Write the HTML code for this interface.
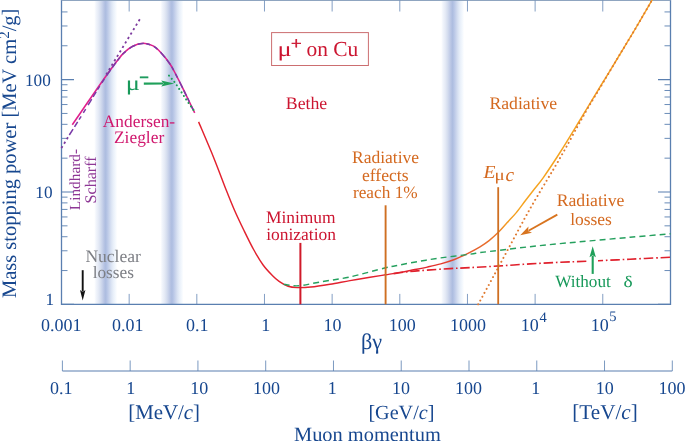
<!DOCTYPE html>
<html><head><meta charset="utf-8"><style>
html,body{margin:0;padding:0;background:#fff;}
svg{display:block;}
text{font-family:"Liberation Serif","DejaVu Serif",serif;text-rendering:geometricPrecision;}
</style></head><body>
<svg width="685" height="441" viewBox="0 0 685 441">
<rect width="685" height="441" fill="#fff"/>
<defs>
<linearGradient id="band" x1="0" x2="1" y1="0" y2="0">
 <stop offset="0.0000" stop-color="#ffffff"/>
 <stop offset="0.0870" stop-color="#f0f4fb"/>
 <stop offset="0.1739" stop-color="#e6ebf6"/>
 <stop offset="0.2609" stop-color="#d8e0f0"/>
 <stop offset="0.3478" stop-color="#c8d2ea"/>
 <stop offset="0.4348" stop-color="#b6c3e3"/>
 <stop offset="0.5000" stop-color="#adbde0"/>
 <stop offset="0.5652" stop-color="#b8c6e6"/>
 <stop offset="0.6522" stop-color="#c9d4ec"/>
 <stop offset="0.7391" stop-color="#dae3f3"/>
 <stop offset="0.8261" stop-color="#e8eff9"/>
 <stop offset="0.9130" stop-color="#f2f7fd"/>
 <stop offset="1.0000" stop-color="#ffffff"/>
</linearGradient>
<linearGradient id="tot" gradientUnits="userSpaceOnUse" x1="420" y1="0" x2="520" y2="0">
 <stop offset="0" stop-color="#e2212e"/>
 <stop offset="0.45" stop-color="#e5572f"/>
 <stop offset="0.78" stop-color="#ea7a2a"/>
 <stop offset="0.85" stop-color="#f29a25"/>
 <stop offset="1" stop-color="#f5a31f"/>
</linearGradient>
</defs>
<rect x="94.2" y="0" width="23" height="304.4" fill="url(#band)"/>
<rect x="160.4" y="0" width="23" height="304.4" fill="url(#band)"/>
<rect x="441.1" y="0" width="23" height="304.4" fill="url(#band)"/>
<path d="M61.50,0V304.40H670.50V0" stroke="#5a7fb0" stroke-width="1.3" fill="none"/>
<path d="M61.50,0.5H670.50" stroke="#8fa5c0" stroke-width="1" fill="none"/>
<path d="M129.16,304.40V293.90M129.16,0.50V11.50M196.82,304.40V293.90M196.82,0.50V11.50M264.48,304.40V293.90M264.48,0.50V11.50M332.14,304.40V293.90M332.14,0.50V11.50M399.80,304.40V293.90M399.80,0.50V11.50M467.46,304.40V293.90M467.46,0.50V11.50M535.12,304.40V293.90M535.12,0.50V11.50M602.78,304.40V293.90M602.78,0.50V11.50" stroke="#5a7fb0" stroke-width="1" fill="none" opacity="0.75"/>
<path d="M61.50,304.40H74.00M670.50,304.40H658.00M61.50,192.00H74.00M670.50,192.00H658.00M61.50,79.60H74.00M670.50,79.60H658.00" stroke="#5a7fb0" stroke-width="1.1" fill="none"/>
<path d="M61.50,270.56H67.50M670.50,270.56H664.50M61.50,250.77H67.50M670.50,250.77H664.50M61.50,236.73H67.50M670.50,236.73H664.50M61.50,225.84H67.50M670.50,225.84H664.50M61.50,216.94H67.50M670.50,216.94H664.50M61.50,209.41H67.50M670.50,209.41H664.50M61.50,202.89H67.50M670.50,202.89H664.50M61.50,197.14H67.50M670.50,197.14H664.50M61.50,158.16H67.50M670.50,158.16H664.50M61.50,138.37H67.50M670.50,138.37H664.50M61.50,124.33H67.50M670.50,124.33H664.50M61.50,113.44H67.50M670.50,113.44H664.50M61.50,104.54H67.50M670.50,104.54H664.50M61.50,97.01H67.50M670.50,97.01H664.50M61.50,90.49H67.50M670.50,90.49H664.50M61.50,84.74H67.50M670.50,84.74H664.50M61.50,45.76H67.50M670.50,45.76H664.50M61.50,25.97H67.50M670.50,25.97H664.50M61.50,11.93H67.50M670.50,11.93H664.50" stroke="#5a7fb0" stroke-width="1" fill="none" opacity="0.9"/>
<path d="M62.40,371.00H672.30" stroke="#5a7fb0" stroke-width="1.2" fill="none"/>
<path d="M62.40,371.00V360.50M130.17,371.00V360.50M197.93,371.00V360.50M265.70,371.00V360.50M333.47,371.00V360.50M401.23,371.00V360.50M469.00,371.00V360.50M536.77,371.00V360.50M604.53,371.00V360.50M672.30,371.00V360.50" stroke="#5a7fb0" stroke-width="1" fill="none" opacity="0.8"/>
<path d="M72.30,124.70 C74.58,121.38 81.43,111.42 86.00,104.80 C90.57,98.18 96.03,90.27 99.70,85.00 C103.37,79.73 105.15,77.17 108.00,73.20 C110.85,69.23 114.20,64.53 116.80,61.20 C119.40,57.87 120.95,55.68 123.60,53.20 C126.25,50.72 129.45,47.95 132.70,46.30 C135.95,44.65 139.70,43.37 143.10,43.30 C146.50,43.23 150.12,44.33 153.10,45.90 C156.08,47.47 158.18,49.68 161.00,52.70 C163.82,55.72 167.57,60.45 170.00,64.00 C172.43,67.55 173.33,69.68 175.60,74.00 C177.87,78.32 180.42,83.42 183.60,89.90 C186.78,96.38 192.85,109.07 194.70,112.90" stroke="#e0208c" stroke-width="1.6" fill="none"/>
<path d="M61.4,148.1 L69.5,134.8 M106.2,74.5 L140.1,18.8" stroke="#7d3a9e" stroke-width="1.8" stroke-dasharray="2.2,3" fill="none"/>
<path d="M69.30,135.00 C70.42,133.25 73.72,128.10 76.00,124.50 C78.28,120.90 80.65,117.18 83.00,113.40 C85.35,109.62 87.78,105.60 90.10,101.80 C92.42,98.00 94.75,94.07 96.90,90.60 C99.05,87.13 101.15,83.83 103.00,81.00 C104.85,78.17 105.70,76.87 108.00,73.60 C110.30,70.33 114.20,64.78 116.80,61.40 C119.40,58.02 120.95,55.80 123.60,53.30 C126.25,50.80 129.45,48.05 132.70,46.40 C135.95,44.75 139.70,43.47 143.10,43.40 C146.50,43.33 150.12,44.43 153.10,46.00 C156.08,47.57 158.18,49.78 161.00,52.80 C163.82,55.82 167.57,60.55 170.00,64.10 C172.43,67.65 173.33,69.78 175.60,74.10 C177.87,78.42 180.42,83.52 183.60,90.00 C186.78,96.48 192.85,109.17 194.70,113.00" stroke="#7a3aa8" stroke-width="1.5" stroke-dasharray="7,2.6,6,2.6,4,4,4.5,4.5" fill="none"/>
<path d="M169.00,75.60 C170.10,76.93 172.90,79.88 175.60,83.60 C178.30,87.32 181.88,93.02 185.20,97.90 C188.52,102.78 193.78,110.40 195.50,112.90" stroke="#1fa05a" stroke-width="2.1" stroke-linecap="round" stroke-dasharray="0.01,4.2" fill="none"/>
<path d="M198.60,121.90 C201.17,127.98 209.40,147.05 214.00,158.40 C218.60,169.75 222.78,181.37 226.20,190.00 C229.62,198.63 231.53,203.45 234.50,210.20 C237.47,216.95 240.82,223.95 244.00,230.50 C247.18,237.05 250.42,243.75 253.60,249.50 C256.78,255.25 259.93,260.63 263.10,265.00 C266.27,269.37 269.93,272.98 272.60,275.70 C275.27,278.42 276.52,279.53 279.10,281.30 C281.68,283.07 285.08,285.25 288.10,286.30 C291.12,287.35 293.42,287.48 297.20,287.60 C300.98,287.72 305.33,287.57 310.80,287.00 C316.27,286.43 323.47,285.27 330.00,284.20 C336.53,283.13 343.33,281.75 350.00,280.60 C356.67,279.45 364.08,278.27 370.00,277.30 C375.92,276.33 380.50,275.62 385.50,274.80 C390.50,273.98 395.32,273.23 400.00,272.40 C404.68,271.57 409.07,270.68 413.60,269.80 C418.13,268.92 422.67,268.08 427.20,267.10 C431.73,266.12 436.27,265.17 440.80,263.90 C445.33,262.63 449.87,261.27 454.40,259.50 C458.93,257.73 463.73,255.42 468.00,253.30 C472.27,251.18 476.48,248.92 480.00,246.80 C483.52,244.68 486.08,242.97 489.10,240.60 C492.12,238.23 495.08,235.60 498.10,232.60 C501.12,229.60 504.17,225.93 507.20,222.60 C510.23,219.27 513.28,216.23 516.30,212.60 C519.32,208.97 522.28,204.73 525.30,200.80 C528.32,196.87 531.37,192.92 534.40,189.00 C537.43,185.08 539.23,183.38 543.50,177.30 C547.77,171.22 553.92,162.05 560.00,152.50 C566.08,142.95 573.33,130.92 580.00,120.00 C586.67,109.08 593.92,97.00 600.00,87.00 C606.08,77.00 610.83,69.33 616.50,60.00 C622.17,50.67 628.07,41.00 634.00,31.00 C639.93,21.00 648.93,5.42 652.10,0.00 C655.27,-5.42 652.85,-1.25 653.00,-1.50" stroke="url(#tot)" stroke-width="1.45" fill="none"/>
<path d="M283.60,284.20 C285.27,284.47 290.37,285.62 293.60,285.80 C296.83,285.98 298.60,285.93 303.00,285.30 C307.40,284.67 312.17,283.40 320.00,282.00 C327.83,280.60 339.08,279.27 350.00,276.90 C360.92,274.53 377.17,269.80 385.50,267.80 C393.83,265.80 394.25,266.00 400.00,264.90 C405.75,263.80 413.20,262.37 420.00,261.20 C426.80,260.03 432.47,259.07 440.80,257.90 C449.13,256.73 463.47,255.08 470.00,254.20 C476.53,253.32 475.00,253.27 480.00,252.60 C485.00,251.93 491.67,251.18 500.00,250.20 C508.33,249.22 520.00,247.80 530.00,246.70 C540.00,245.60 550.00,244.57 560.00,243.60 C570.00,242.63 578.33,241.95 590.00,240.90 C601.67,239.85 616.58,238.48 630.00,237.30 C643.42,236.12 663.75,234.38 670.50,233.80" stroke="#25a05e" stroke-width="1.45" stroke-dasharray="6,4" fill="none"/>
<path d="M393.70,273.60 C396.42,273.25 404.42,272.08 410.00,271.50 C415.58,270.92 420.53,270.58 427.20,270.10 C433.87,269.62 442.87,269.02 450.00,268.60 C457.13,268.18 461.67,268.05 470.00,267.60 C478.33,267.15 490.00,266.52 500.00,265.90 C510.00,265.28 520.00,264.50 530.00,263.90 C540.00,263.30 550.00,262.77 560.00,262.30 C570.00,261.83 578.33,261.62 590.00,261.10 C601.67,260.58 616.58,259.85 630.00,259.20 C643.42,258.55 663.75,257.53 670.50,257.20" stroke="#e0202c" stroke-width="1.6" stroke-dasharray="9.5,2.8,1.6,2.8" fill="none"/>
<path d="M478.20,304.30 C481.00,299.17 489.33,283.97 495.00,273.50 C500.67,263.03 506.43,252.17 512.20,241.50 C517.97,230.83 523.80,219.75 529.60,209.50 C535.40,199.25 542.60,187.42 547.00,180.00 C551.40,172.58 552.83,170.42 556.00,165.00 C559.17,159.58 562.45,153.87 566.00,147.50 C569.55,141.13 574.08,132.63 577.30,126.80 C580.52,120.97 582.75,116.97 585.30,112.50 C587.85,108.03 590.15,104.12 592.60,100.00 C595.05,95.88 596.02,94.47 600.00,87.80 C603.98,81.13 610.83,69.47 616.50,60.00 C622.17,50.53 628.07,41.00 634.00,31.00 C639.93,21.00 649.08,5.17 652.10,0.00" stroke="#e07a30" stroke-width="2" stroke-linecap="round" stroke-dasharray="0.01,4.4" fill="none"/>
<path d="M300.4,242.9V304.3" stroke="#d01a2a" stroke-width="2"/>
<path d="M385.6,205.3V304.3" stroke="#cf6f22" stroke-width="1.9"/>
<path d="M498.2,187.2V304.3" stroke="#cf6f22" stroke-width="1.8"/>
<path d="M82.70,270.20L82.70,291.60" stroke="#111" stroke-width="1.90"/><path d="M82.70,300.60L80.00,290.10L82.70,292.10L85.40,290.10Z" fill="#111"/>
<path d="M143.80,83.60L163.20,83.47" stroke="#1fa05a" stroke-width="2.10"/><path d="M174.20,83.40L161.22,86.39L163.70,83.47L161.18,80.59Z" fill="#1fa05a"/>
<path d="M557.30,214.60L528.50,230.67" stroke="#d8741f" stroke-width="1.80"/><path d="M520.20,235.30L528.49,226.55L528.06,230.91L532.00,232.84Z" fill="#d8741f"/>
<rect x="587" y="257.5" width="11" height="8" fill="#fff"/>
<path d="M592.70,273.90L592.70,255.80" stroke="#1fa05a" stroke-width="2.10"/><path d="M592.70,246.30L595.90,257.30L592.70,255.30L589.50,257.30Z" fill="#1fa05a"/>
<rect x="271.6" y="32.6" width="96.8" height="32.9" fill="none" stroke="#cc6e70" stroke-width="1"/>
<text x="40.92" y="330.60" font-size="18.00" fill="#17478f" >0.001</text>
<text x="111.92" y="330.60" font-size="18.00" fill="#17478f" >0.01</text>
<text x="186.07" y="330.60" font-size="18.00" fill="#17478f" >0.1</text>
<text x="261.25" y="330.60" font-size="18.00" fill="#17478f" >1</text>
<text x="323.48" y="330.60" font-size="18.00" fill="#17478f" >10</text>
<text x="388.82" y="330.60" font-size="18.00" fill="#17478f" >100</text>
<text x="449.93" y="330.60" font-size="18.00" fill="#17478f" >1000</text>
<text x="520.77" y="330.60" font-size="18.00" fill="#17478f" >10</text>
<text x="590.67" y="330.60" font-size="18.00" fill="#17478f" >10</text>
<text x="539.62" y="321.50" font-size="14.50" fill="#17478f" >4</text>
<text x="609.25" y="321.25" font-size="14.50" fill="#17478f" >5</text>
<text x="361.00" y="348.65" font-size="22.21" fill="#17478f" >βγ</text>
<text x="24.98" y="85.70" font-size="17.20" fill="#17478f" >100</text>
<text x="35.35" y="198.20" font-size="17.20" fill="#17478f" >10</text>
<text x="45.40" y="304.90" font-size="17.20" fill="#17478f" >1</text>
<text x="49.97" y="393.60" font-size="18.00" fill="#17478f" >0.1</text>
<text x="126.30" y="393.60" font-size="18.00" fill="#17478f" >1</text>
<text x="190.22" y="393.60" font-size="18.00" fill="#17478f" >10</text>
<text x="252.98" y="393.60" font-size="18.00" fill="#17478f" >100</text>
<text x="327.85" y="393.60" font-size="18.00" fill="#17478f" >1</text>
<text x="392.08" y="393.60" font-size="18.00" fill="#17478f" >10</text>
<text x="455.08" y="393.60" font-size="18.00" fill="#17478f" >100</text>
<text x="531.15" y="393.60" font-size="18.00" fill="#17478f" >1</text>
<text x="595.73" y="393.60" font-size="18.00" fill="#17478f" >10</text>
<text x="658.48" y="393.60" font-size="18.00" fill="#17478f" >100</text>
<text x="128.20" y="418.95" font-size="20.86" fill="#17478f" >[MeV/<tspan font-style="italic">c</tspan>]</text>
<text x="368.40" y="419.05" font-size="20.16" fill="#17478f" >[GeV/<tspan font-style="italic">c</tspan>]</text>
<text x="572.30" y="418.55" font-size="21.17" fill="#17478f" >[TeV/<tspan font-style="italic">c</tspan>]</text>
<text x="294.00" y="440.60" font-size="20.41" fill="#17478f" >Muon momentum</text>
<text transform="translate(15.50,298.10) rotate(-90)" font-size="20.50" fill="#17478f" >Mass stopping power [MeV cm<tspan dy="-6.5" font-size="15">2</tspan><tspan dy="6.5">/g]</tspan></text>
<text x="277.60" y="56.30" font-size="21.00" fill="#cc1530" textLength="14.16" lengthAdjust="spacingAndGlyphs">μ</text>
<text x="290.95" y="48.95" font-size="17.00" fill="#cc1530" stroke="#cc1530" stroke-width="0.6" textLength="10.61" lengthAdjust="spacingAndGlyphs">+</text>
<text x="306.45" y="56.30" font-size="21.44" fill="#cc1530" >on Cu</text>
<text x="285.80" y="109.20" font-size="17.76" fill="#cc1530" >Bethe</text>
<text x="489.40" y="109.20" font-size="17.70" fill="#d4691f" >Radiative</text>
<text x="102.85" y="126.90" font-size="17.35" fill="#d0186e" >Andersen-</text>
<text x="113.95" y="143.40" font-size="17.41" fill="#d0186e" >Ziegler</text>
<text x="265.90" y="222.50" font-size="17.43" fill="#cc1530" >Minimum</text>
<text x="266.15" y="239.80" font-size="17.48" fill="#cc1530" >ionization</text>
<text x="352.00" y="163.40" font-size="17.50" fill="#d4691f" >Radiative</text>
<text x="361.95" y="181.00" font-size="17.64" fill="#d4691f" >effects</text>
<text x="352.95" y="198.10" font-size="17.28" fill="#d4691f" >reach 1%</text>
<text x="483.55" y="177.60" font-size="18.50" fill="#d4691f" textLength="11.97" lengthAdjust="spacingAndGlyphs"><tspan font-style="italic">E</tspan></text>
<text x="494.40" y="179.85" font-size="16.00" fill="#d4691f" textLength="10.17" lengthAdjust="spacingAndGlyphs">μ</text>
<text x="505.60" y="180.90" font-size="19.25" fill="#d4691f" ><tspan font-style="italic">c</tspan></text>
<text x="556.70" y="206.40" font-size="17.71" fill="#d4691f" >Radiative</text>
<text x="570.15" y="224.80" font-size="17.48" fill="#d4691f" >losses</text>
<text x="555.20" y="286.60" font-size="17.21" fill="#18995a" >Without</text>
<text x="623.45" y="286.60" font-size="16.00" fill="#18995a" textLength="9.17" lengthAdjust="spacingAndGlyphs">δ</text>
<text x="85.40" y="262.00" font-size="17.56" fill="#7d7f85" >Nuclear</text>
<text x="92.65" y="278.10" font-size="17.34" fill="#7d7f85" >losses</text>
<text transform="translate(79.80,210.20) rotate(-90)" font-size="15.35" fill="#8e3896" >Lindhard-</text>
<text transform="translate(95.80,203.50) rotate(-90)" font-size="16.15" fill="#8e3896" >Scharff</text>
<text x="125.75" y="89.70" font-size="20.50" fill="#18995a" textLength="14.24" lengthAdjust="spacingAndGlyphs">μ</text>
<text x="139.60" y="81.70" font-size="14.00" fill="#18995a" font-weight="bold" stroke="#18995a" stroke-width="0.9" textLength="9.16" lengthAdjust="spacingAndGlyphs">−</text>
</svg>
</body></html>
